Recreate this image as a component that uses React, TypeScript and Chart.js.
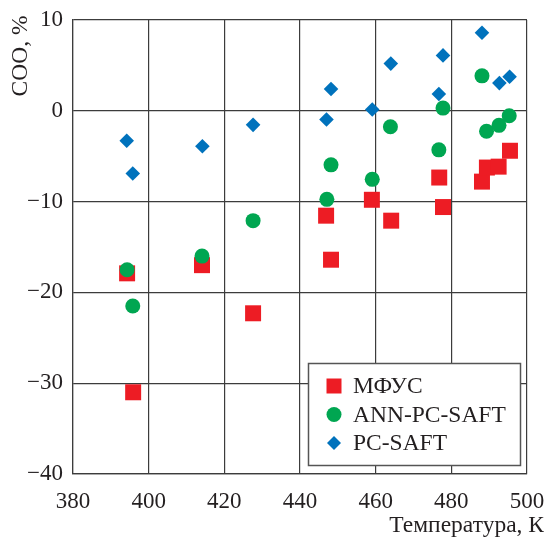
import React, { useEffect, useRef } from 'react';
import { Chart, registerables } from 'chart.js';

Chart.register(...registerables);

// Temperatures (K) and deviations (%)
const tempMFUS = [394.3, 395.9, 414.1, 427.6, 446.9, 448.2, 459.0, 464.1, 476.8, 477.8, 488.1, 489.4, 492.5, 495.5];
const cooMFUS = [-17.9, -31.0, -17.0, -22.3, -11.55, -16.4, -9.8, -12.1, -7.35, -10.6, -7.8, -6.25, -6.15, -4.4];

const tempANN = [394.3, 395.8, 414.1, 427.6, 447.1, 448.2, 459.1, 463.9, 476.7, 477.8, 488.1, 489.3, 492.6, 495.3];
const cooANN = [-17.5, -21.5, -16.0, -12.1, -9.75, -5.95, -7.55, -1.75, -4.3, 0.3, 3.85, -2.25, -1.6, -0.55];

const tempPCSAFT = [394.2, 395.8, 414.2, 427.6, 447.0, 448.2, 459.1, 464.0, 476.7, 477.8, 488.1, 492.7, 495.4];
const cooPCSAFT = [-3.3, -6.9, -3.9, -1.55, -0.95, 2.4, 0.15, 5.2, 1.85, 6.1, 8.6, 3.05, 3.75];

const xTicks = [380, 400, 420, 440, 460, 480, 500];
const yTicks = [-40, -30, -20, -10, 0, 10];

const seriesLabels = ['МФУС', 'ANN-PC-SAFT', 'PC-SAFT'];
const xTitle = 'Температура, К';
const yTitle = 'СОО, %';

const RED = '#ED1C24';
const GREEN = '#00A651';
const BLUE = '#0072BC';
const TEXT = '#231F20';
const GRID = '#3c3c3c';
const FONT = '"Liberation Serif", "Times New Roman", serif';

function pts(xs: number[], ys: number[]) {
  return xs.map((x, i) => ({ x, y: ys[i] }));
}

const overlayPlugin = {
  id: 'overlay',
  afterDraw(chart: any) {
    const ctx = chart.ctx as CanvasRenderingContext2D;
    ctx.save();
    ctx.fillStyle = TEXT;
    // x title (right aligned, bottom)
    ctx.font = `23.5px ${FONT}`;
    ctx.textAlign = 'right';
    ctx.textBaseline = 'alphabetic';
    ctx.fillText(xTitle, 544, 532);
    // y title (rotated, top-left)
    ctx.save();
    ctx.font = `23.5px ${FONT}`;
    ctx.translate(21, 56);
    ctx.rotate(-Math.PI / 2);
    ctx.textAlign = 'center';
    ctx.textBaseline = 'middle';
    ctx.fillText(yTitle, 0, 0);
    ctx.restore();

    // legend box
    const bx = 308.5, by = 363.5, bw = 212, bh = 102;
    ctx.fillStyle = '#ffffff';
    ctx.fillRect(bx, by, bw, bh);
    ctx.strokeStyle = '#555555';
    ctx.lineWidth = 1.5;
    ctx.strokeRect(bx, by, bw, bh);

    const styles = [
      { shape: 'square', color: RED },
      { shape: 'circle', color: GREEN },
      { shape: 'diamond', color: BLUE },
    ];
    ctx.font = `23.5px ${FONT}`;
    styles.forEach((s, i) => {
      const cx = 334;
      const cy = 386 + i * 28.5;
      ctx.fillStyle = s.color;
      ctx.beginPath();
      if (s.shape === 'square') {
        ctx.rect(cx - 7.5, cy - 7.5, 15, 15);
      } else if (s.shape === 'circle') {
        ctx.arc(cx, cy, 7.5, 0, Math.PI * 2);
      } else {
        ctx.moveTo(cx - 7, cy);
        ctx.lineTo(cx, cy - 7);
        ctx.lineTo(cx + 7, cy);
        ctx.lineTo(cx, cy + 7);
        ctx.closePath();
      }
      ctx.fill();
      ctx.fillStyle = TEXT;
      ctx.textAlign = 'left';
      ctx.textBaseline = 'middle';
      ctx.fillText(seriesLabels[i], 353, cy + 1);
    });
    ctx.restore();
  },
};

export default function App() {
  const ref = useRef<HTMLCanvasElement>(null);

  useEffect(() => {
    if (!ref.current) return;
    const chart = new Chart(ref.current, {
      type: 'scatter',
      data: {
        datasets: [
          {
            label: seriesLabels[0],
            data: pts(tempMFUS, cooMFUS),
            pointStyle: 'rect',
            pointRadius: 11.3,
            backgroundColor: RED,
            borderWidth: 0,
            order: 1,
          },
          {
            label: seriesLabels[1],
            data: pts(tempANN, cooANN),
            pointStyle: 'circle',
            pointRadius: 7.5,
            backgroundColor: GREEN,
            borderWidth: 0,
            order: 0,
          },
          {
            label: seriesLabels[2],
            data: pts(tempPCSAFT, cooPCSAFT),
            pointStyle: 'rectRot',
            pointRadius: 7.3,
            backgroundColor: BLUE,
            borderWidth: 0,
            order: 2,
          },
        ],
      },
      options: {
        responsive: false,
        animation: false,
        events: [],
        layout: { padding: { top: 20, right: 20, left: 0, bottom: 0 } },
        plugins: {
          legend: { display: false },
          title: { display: false },
          tooltip: { enabled: false },
        },
        scales: {
          x: {
            type: 'linear',
            min: 380,
            max: 500,
            afterBuildTicks: (s: any) => {
              s.ticks = xTicks.map((v) => ({ value: v }));
            },
            afterFit: (s: any) => {
              s.height = 65;
              s.paddingLeft = 0;
              s.paddingRight = 0;
            },
            ticks: {
              color: TEXT,
              font: { family: FONT, size: 23 },
              padding: 14,
              maxRotation: 0,
              autoSkip: false,
            },
            grid: { color: GRID, lineWidth: 1.2, drawTicks: false },
            border: { display: true, color: GRID, width: 1.2 },
          },
          y: {
            type: 'linear',
            min: -40,
            max: 10,
            afterBuildTicks: (s: any) => {
              s.ticks = yTicks.map((v) => ({ value: v }));
            },
            afterFit: (s: any) => {
              s.width = 73;
              s.paddingTop = 0;
              s.paddingBottom = 0;
            },
            ticks: {
              color: TEXT,
              font: { family: FONT, size: 23 },
              padding: 10,
              autoSkip: false,
              callback: (v: any) => (Number(v) < 0 ? '\u2212' + Math.abs(Number(v)) : String(v)),
            },
            grid: { color: GRID, lineWidth: 1.2, drawTicks: false },
            border: { display: true, color: GRID, width: 1.2 },
          },
        },
      },
      plugins: [overlayPlugin],
    });
    return () => chart.destroy();
  }, []);

  return (
    <div style={{ position: 'absolute', left: 0, top: 0, width: 547, height: 539, background: '#fff' }}>
      <canvas ref={ref} width={547} height={539} style={{ display: 'block' }} />
    </div>
  );
}
